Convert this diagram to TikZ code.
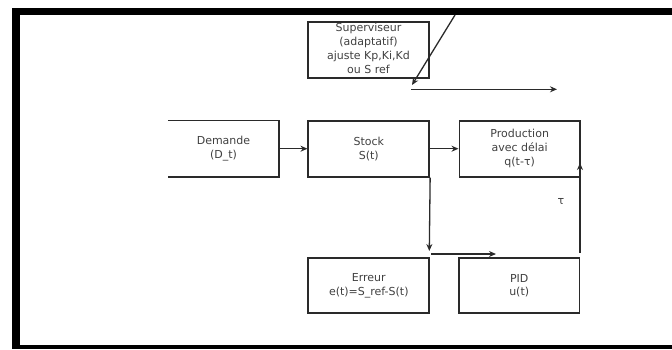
\documentclass[tikz,border=0pt]{standalone}
\usepackage{fontspec}
\setmainfont{DejaVu Sans}
\usetikzlibrary{arrows.meta}
\definecolor{ln}{HTML}{2a2a2a}
\definecolor{tx}{HTML}{404040}
\tikzset{
  blk/.style={draw=ln, line width=1.7pt, rectangle, minimum height=56pt, inner sep=0pt, align=center, text=tx, font=\fontsize{11}{13.8}\selectfont},
  txt/.style={rectangle, inner sep=0pt, align=center, text=tx, font=\fontsize{11}{13.8}\selectfont},
  conn/.style={draw=ln, line width=1.3pt, -{Stealth[length=7pt,width=6pt]}},
  plain/.style={draw=ln, line width=1.3pt}
}
\begin{document}
\begin{tikzpicture}[x=1pt,y=-1pt]
\useasboundingbox (0,0) rectangle (672,349);
\clip (0,0) rectangle (672,349);
% frame
\fill[black] (12,7.5) rectangle (672,15);
\fill[black] (12,7.5) rectangle (20,349);
\fill[black] (12,344.5) rectangle (672,349);
% nodes
\node[txt, minimum width=111pt, minimum height=56pt] (dem) at (223.5,148.7) {Demande\\(D\_t)};
\draw[ln, line width=1.7pt] (dem.north west) -- (dem.north east) -- (dem.south east) -- (dem.south west);
\node[blk, minimum width=121pt] (stock) at (368.8,148.7) {Stock\\S(t)};
\node[blk, minimum width=120.7pt] (prod) at (519.7,148.7) {Production\\avec délai\\q(t-τ)};
\node[blk, minimum width=121pt, minimum height=55pt] (err) at (368.8,285.8) {Erreur\\e(t)=S\_ref-S(t)};
\node[blk, minimum width=120.3pt, minimum height=55pt] (pid) at (519.2,285.8) {PID\\u(t)};
\node[blk, minimum width=120.5pt, minimum height=56.6pt] (sup) at (368.5,50) {};
\node[txt] (suptxt) at (368.5,48.5) {Superviseur\\(adaptatif)\\ajuste Kp,Ki,Kd\\ou S ref};
\node[txt] (tau) at (561,201) {τ};
% coordinates
\coordinate (e1) at (429.3,251);
\coordinate (a1) at (431,254);
\coordinate (a2) at (496,254);
\coordinate (p1) at (580,253);
\coordinate (p2) at (580,163);
\coordinate (d1) at (455,15);
\coordinate (d2) at (412,85);
\coordinate (h1) at (411,89.3);
\coordinate (h2) at (557,89.3);
% connectors
\draw[conn] (dem.east) -- (stock.west);
\draw[conn] (stock.east) -- (prod.west);
\draw[conn] (stock.south east) -- (e1);
\draw[conn] (a1) -- (a2);
\draw[conn] (p1) -- (p2);
\draw[conn] (d1) -- (d2);
\draw[conn] (h1) -- (h2);
\end{tikzpicture}
\end{document}
